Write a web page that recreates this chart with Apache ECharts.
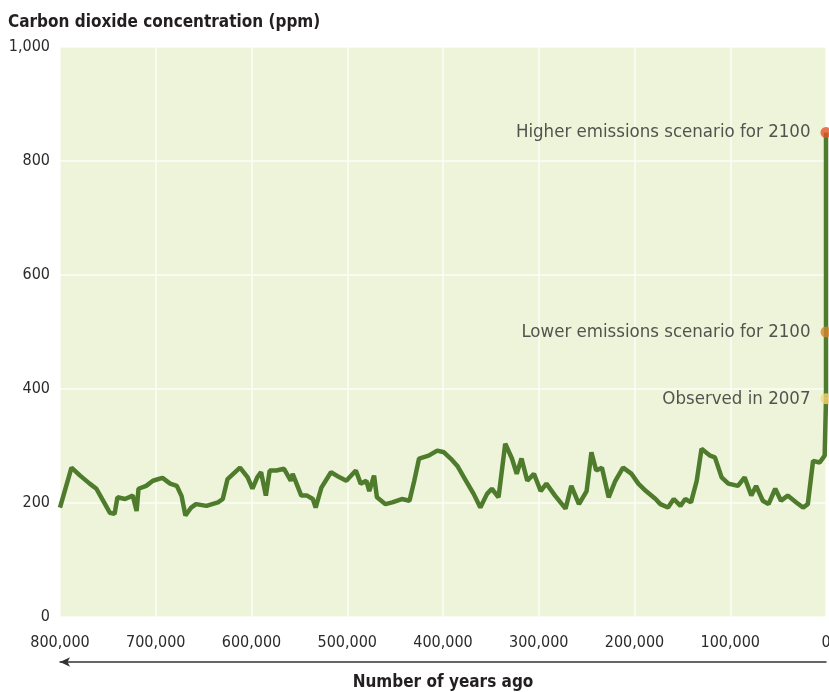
<!DOCTYPE html>
<html>
<head>
<meta charset="utf-8">
<style>
  html, body { margin: 0; padding: 0; background: #ffffff; }
  #chart { width: 829px; height: 692px; }
</style>
<script src="https://cdn.jsdelivr.net/npm/echarts@6/dist/echarts.min.js"></script>
</head>
<body>
<div id="chart"></div>
<script>
// ---- Data ----
const chartTitle = 'Carbon dioxide concentration (ppm)';
const xAxisTitle = 'Number of years ago';
const yTicks = [0, 200, 400, 600, 800, 1000];
const xTicks = [0, 100000, 200000, 300000, 400000, 500000, 600000, 700000, 800000];

// Years before present
const co2Years = [
  800000, 788000, 779000, 769000, 762000, 755000, 748000, 743000, 740000, 732000,
  724000, 720000, 718000, 710000, 703000, 693000, 685000, 678000, 673000, 669000,
  663000, 658000, 647000, 635000, 630000, 625000, 612000, 604000, 599000, 594000,
  590000, 585000, 581000, 574000, 566000, 559000, 557000, 548000, 542000, 536000,
  533000, 527000, 517000, 508000, 501000, 491000, 486000, 480000, 477000, 472000,
  469000, 460000, 453000, 443000, 435000, 430000, 425000, 415000, 406000, 399000,
  392000, 385000, 376000, 368000, 361000, 354000, 349000, 342000, 335000, 328000,
  323000, 318000, 312000, 305000, 298000, 292000, 283000, 272000, 266000, 258000,
  250000, 245000, 240000, 234000, 227000, 220000, 212000, 203000, 196000, 188000,
  178000, 173000, 165000, 159000, 152000, 147000, 141000, 135000, 130000, 121000,
  116000, 109000, 102000, 92000, 85000, 78000, 73000, 66000, 60000, 53000,
  47000, 40000, 31000, 24000, 19000, 13500, 6600, 1400, 0
];
// CO2 concentration (ppm)
const co2Values = [
  192, 262, 248, 234, 225, 204, 183, 181, 210, 207,
  213, 186, 225, 230, 239, 244, 234, 230, 212, 178,
  192, 198, 195, 201, 207, 242, 262, 245, 225, 245,
  254, 213, 257, 257, 260, 239, 251, 213, 213, 207,
  192, 227, 254, 245, 239, 257, 234, 239, 221, 248,
  210, 198, 201, 207, 204, 239, 278, 283, 292, 289,
  278, 265, 239, 216, 192, 216, 225, 210, 304, 278,
  251, 278, 239, 251, 221, 234, 213, 190, 230, 198,
  221, 289, 257, 262, 210, 239, 262, 251, 234, 221,
  207, 198, 192, 207, 195, 207, 201, 239, 295, 283,
  280, 245, 234, 230, 245, 213, 230, 204, 198, 225,
  204, 213, 201, 192, 198, 274, 271, 283, 383
];

// Present-day / scenario markers (at 0 years ago)
const markerLabels = ['Observed in 2007', 'Lower emissions scenario for 2100', 'Higher emissions scenario for 2100'];
const markerValues = [383, 500, 850];

// ---- Styles ----
const markerColors = ['#f5d77c', '#d6862f', '#e2532a'];
const lineGreen = '#4e7b2c';
const textFont = '"Liberation Sans Narrow", "DejaVu Sans Condensed", "Roboto", sans-serif';

const fmt = v => v.toLocaleString('en-US');

const mainData = co2Years.map((y, i) => [y, co2Values[i]]);
const projData = [[0, markerValues[0]], [0, Math.max.apply(null, markerValues)]];
const markerData = markerValues.map((v, i) => ({
  value: [0, v],
  name: markerLabels[i],
  itemStyle: { color: markerColors[i] }
}));

const chart = echarts.init(document.getElementById('chart'), null, { renderer: 'canvas' });
chart.setOption({
  animation: false,
  backgroundColor: '#ffffff',
  textStyle: { fontFamily: textFont },
  title: {
    text: chartTitle,
    left: 3, top: 9,
    textStyle: { fontFamily: textFont, fontSize: 17, fontWeight: 'bold', color: '#231f20' }
  },
  grid: {
    left: 60, right: 3, top: 47, bottom: 75,
    outerBoundsMode: 'none', containLabel: false,
    show: true, backgroundColor: '#eef4da', borderWidth: 0
  },
  xAxis: [{
    type: 'value', inverse: true, min: 0, max: 800000, interval: 100000,
    axisLine: { show: false }, axisTick: { show: false },
    splitLine: { show: true, lineStyle: { color: '#ffffff', width: 2, opacity: 0.6 } },
    axisLabel: { margin: 18, fontSize: 16, color: '#2b2b2b', fontFamily: textFont, formatter: fmt }
  }, {
    type: 'value', min: 0, max: 1, position: 'bottom', offset: 45,
    axisLine: { show: true, symbol: ['arrow', 'none'], symbolSize: [7, 10],
      lineStyle: { color: '#333333', width: 1.5 } },
    axisTick: { show: false }, axisLabel: { show: false }, splitLine: { show: false },
    name: xAxisTitle, nameLocation: 'middle', nameGap: 12,
    nameTextStyle: { fontFamily: textFont, fontSize: 17, fontWeight: 'bold', color: '#231f20' }
  }],
  yAxis: {
    type: 'value', min: 0, max: 1000, interval: 200,
    axisLine: { show: false }, axisTick: { show: false },
    splitLine: { show: true, lineStyle: { color: '#ffffff', width: 2, opacity: 0.6 } },
    axisLabel: { margin: 10, fontSize: 16, color: '#2b2b2b', fontFamily: textFont, formatter: fmt }
  },
  series: [{
    type: 'line', xAxisIndex: 0, data: mainData, showSymbol: false,
    lineStyle: { color: lineGreen, width: 4.5 }, z: 3, clip: false
  }, {
    type: 'line', xAxisIndex: 0, data: projData, showSymbol: false,
    lineStyle: { color: lineGreen, width: 4.5 }, z: 3, clip: false
  }, {
    type: 'scatter', xAxisIndex: 0, data: markerData, symbolSize: 11, z: 5, clip: false,
    label: {
      show: true, position: 'left', distance: 10,
      formatter: p => p.name,
      fontFamily: textFont, fontSize: 18.5, color: '#2b2b2b'
    }
  }]
});
</script>
</body>
</html>
